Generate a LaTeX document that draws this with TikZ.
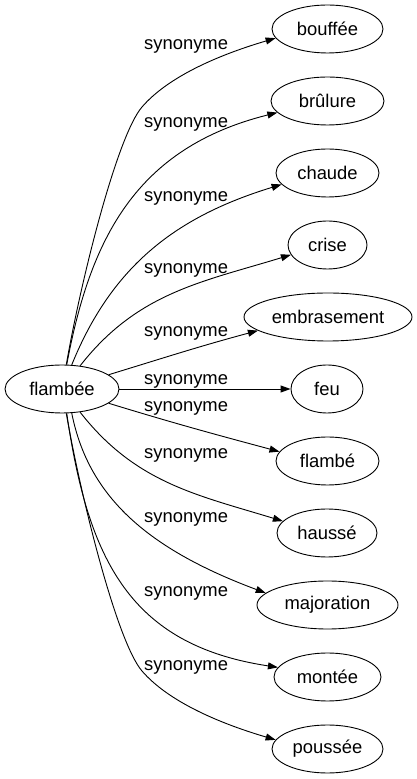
\documentclass[tikz,border=0pt]{standalone}
\usepackage{fontspec}
\setmainfont{Liberation Sans}
\usetikzlibrary{shapes.geometric,arrows.meta}
\begin{document}
\begin{tikzpicture}[x=1pt,y=1pt,
  nd/.style={draw,ellipse,inner sep=0pt,minimum height=48pt,line width=0.9pt,font=\fontsize{18.4}{20}\selectfont},
  lbl/.style={font=\fontsize{18.4}{20}\selectfont,inner sep=0pt,anchor=base west},
  edge/.style={line width=0.9pt,-{Triangle[length=10pt,width=7pt]}}]
\useasboundingbox (0,0) rectangle (416,779);
\node[nd,minimum width=114pt] (f) at (62,390) {flambée};
\node[nd,minimum width=111pt] (bouffee) at (327.5,750) {bouffée};
\node[nd,minimum width=113pt] (brulure) at (327.5,678) {brûlure};
\node[nd,minimum width=103pt] (chaude) at (327.5,606) {chaude};
\node[nd,minimum width=79pt] (crise) at (327.5,534) {crise};
\node[nd,minimum width=168pt] (embrasement) at (328,462) {embrasement};
\node[nd,minimum width=72pt] (feu) at (327,390) {feu};
\node[nd,minimum width=103pt] (flambe) at (327.5,318) {flambé};
\node[nd,minimum width=100pt] (hausse) at (327,246) {haussé};
\node[nd,minimum width=141pt] (majoration) at (327.5,174) {majoration};
\node[nd,minimum width=107pt] (montee) at (327.5,102) {montée};
\node[nd,minimum width=111pt] (poussee) at (327.5,30) {poussée};
\node[lbl] (l1) at (144,729.8) {synonyme};
\node[lbl] (l2) at (144,651.6) {synonyme};
\node[lbl] (l3) at (144,577.3) {synonyme};
\node[lbl] (l4) at (144,505.3) {synonyme};
\node[lbl] (l5) at (144,442.6) {synonyme};
\node[lbl] (l6) at (144,394.5) {synonyme};
\node[lbl] (l7) at (144,367.6) {synonyme};
\node[lbl] (l8) at (144,320.3) {synonyme};
\node[lbl] (l9) at (144,256) {synonyme};
\node[lbl] (l10) at (144,182) {synonyme};
\node[lbl] (l11) at (144,108.3) {synonyme};
\coordinate (mb) at (142,672);
\coordinate (mp) at (142,108);
\draw[edge] (f.80) .. controls (81,499) and (117,643) .. (mb) .. controls (167,701) and (215,723) .. (bouffee.190);
\draw[edge] (f.79) .. controls (90,539) and (135,631) .. (brulure.193);
\draw[edge] (f) to[out=68,in=197] (chaude.194);
\draw[edge] (f) to[out=52,in=197] (crise.195);
\draw[edge] (f) to[out=17,in=195] (embrasement.191);
\draw[edge] (f) -- (feu);
\draw[edge] (f) to[out=-17,in=165] (flambe.169);
\draw[edge] (f) to[out=-52,in=163] (hausse.165);
\draw[edge] (f.-68) .. controls (88,284) and (145,231) .. (majoration.169);
\draw[edge] (f.-79) .. controls (88,219) and (130,134) .. (montee.169);
\draw[edge] (f.-80) .. controls (81,281) and (117,137) .. (mp) .. controls (167,79) and (215,57) .. (poussee.170);
\end{tikzpicture}
\end{document}
